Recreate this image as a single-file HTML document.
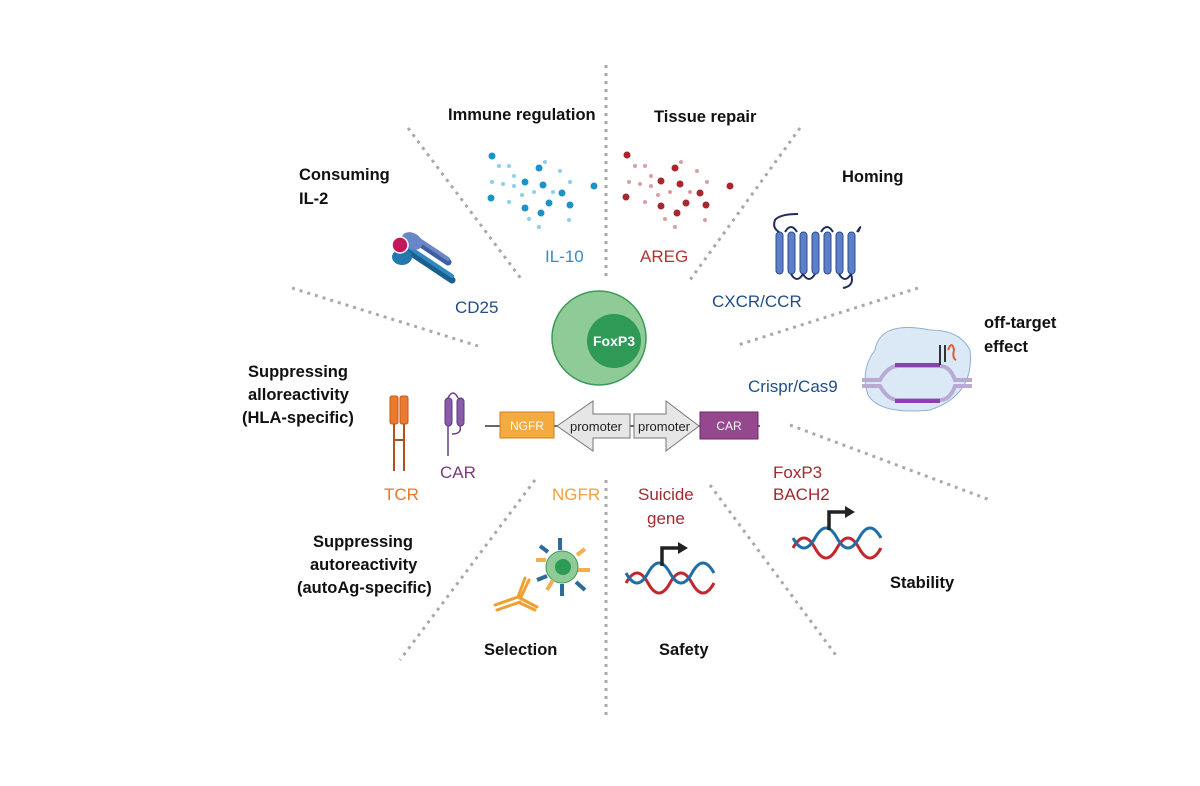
<!DOCTYPE html>
<html><head><meta charset="utf-8"><style>
body{margin:0;background:#fff}
svg{display:block}
text{font-family:"Liberation Sans",sans-serif}
.b{font-weight:bold;font-size:16.5px;fill:#111}
.l{font-size:17px}
</style></head><body>
<svg width="1200" height="786" viewBox="0 0 1200 786">
<g stroke="#a9a9a9" stroke-width="3" stroke-dasharray="3 5" fill="none">
<line x1="606" y1="65" x2="606" y2="278"/>
<line x1="606" y1="480" x2="606" y2="715"/>
<line x1="408" y1="128" x2="522" y2="280"/>
<line x1="800" y1="128" x2="690" y2="280"/>
<line x1="292" y1="288" x2="478" y2="346"/>
<line x1="918" y1="288" x2="735" y2="346"/>
<line x1="790" y1="425" x2="990" y2="500"/>
<line x1="535" y1="480" x2="400" y2="660"/>
<line x1="710" y1="485" x2="838" y2="658"/>
</g>
<text class="b" x="448" y="120">Immune regulation</text>
<text class="b" x="654" y="122">Tissue repair</text>
<text class="b" x="299" y="180">Consuming</text>
<text class="b" x="299" y="204">IL-2</text>
<text class="b" x="842" y="182">Homing</text>
<text class="b" x="984" y="328">off-target</text>
<text class="b" x="984" y="352">effect</text>
<text class="b" x="248" y="377">Suppressing</text>
<text class="b" x="248" y="400">alloreactivity</text>
<text class="b" x="242" y="423">(HLA-specific)</text>
<text class="b" x="313" y="547">Suppressing</text>
<text class="b" x="310" y="570">autoreactivity</text>
<text class="b" x="297" y="593">(autoAg-specific)</text>
<text class="b" x="484" y="655">Selection</text>
<text class="b" x="659" y="655">Safety</text>
<text class="b" x="890" y="588">Stability</text>
<text class="l" x="545" y="262" fill="#2f8fc9">IL-10</text>
<text class="l" x="640" y="262" fill="#b03236">AREG</text>
<text class="l" x="455" y="313" fill="#1f4e85">CD25</text>
<text class="l" x="712" y="307" fill="#1f4e85">CXCR/CCR</text>
<text class="l" x="748" y="392" fill="#1f4e85">Crispr/Cas9</text>
<text class="l" x="384" y="500" fill="#e8782a">TCR</text>
<text class="l" x="440" y="478" fill="#7a3a7a">CAR</text>
<text class="l" x="552" y="500" fill="#f0a040">NGFR</text>
<text class="l" x="638" y="500" fill="#a02a30">Suicide</text>
<text class="l" x="647" y="524" fill="#a02a30">gene</text>
<text class="l" x="773" y="478" fill="#a02a30">FoxP3</text>
<text class="l" x="773" y="500" fill="#a02a30">BACH2</text>
<g fill="#1c93c8">
<circle cx="492" cy="156" r="3.5"/><circle cx="539" cy="168" r="3.5"/><circle cx="525" cy="182" r="3.5"/><circle cx="543" cy="185" r="3.5"/><circle cx="491" cy="198" r="3.5"/><circle cx="562" cy="193" r="3.5"/><circle cx="525" cy="208" r="3.5"/><circle cx="549" cy="203" r="3.5"/><circle cx="570" cy="205" r="3.5"/><circle cx="541" cy="213" r="3.5"/><circle cx="594" cy="186" r="3.5"/>
</g>
<g fill="#8ccfe8">
<circle cx="499" cy="166" r="2"/><circle cx="509" cy="166" r="2"/><circle cx="514" cy="176" r="2"/><circle cx="492" cy="182" r="2"/><circle cx="503" cy="184" r="2"/><circle cx="514" cy="186" r="2"/><circle cx="545" cy="162" r="2"/><circle cx="560" cy="171" r="2"/><circle cx="570" cy="182" r="2"/><circle cx="534" cy="192" r="2"/><circle cx="553" cy="192" r="2"/><circle cx="522" cy="195" r="2"/><circle cx="509" cy="202" r="2"/><circle cx="529" cy="219" r="2"/><circle cx="539" cy="227" r="2"/><circle cx="569" cy="220" r="2"/>
</g>
<g fill="#a8262e">
<circle cx="627" cy="155" r="3.5"/><circle cx="675" cy="168" r="3.5"/><circle cx="661" cy="181" r="3.5"/><circle cx="680" cy="184" r="3.5"/><circle cx="626" cy="197" r="3.5"/><circle cx="700" cy="193" r="3.5"/><circle cx="661" cy="206" r="3.5"/><circle cx="686" cy="203" r="3.5"/><circle cx="706" cy="205" r="3.5"/><circle cx="677" cy="213" r="3.5"/><circle cx="730" cy="186" r="3.5"/>
</g>
<g fill="#d9a0a4">
<circle cx="635" cy="166" r="2"/><circle cx="645" cy="166" r="2"/><circle cx="651" cy="176" r="2"/><circle cx="629" cy="182" r="2"/><circle cx="640" cy="184" r="2"/><circle cx="651" cy="186" r="2"/><circle cx="681" cy="162" r="2"/><circle cx="697" cy="171" r="2"/><circle cx="707" cy="182" r="2"/><circle cx="670" cy="192" r="2"/><circle cx="690" cy="192" r="2"/><circle cx="658" cy="195" r="2"/><circle cx="645" cy="202" r="2"/><circle cx="665" cy="219" r="2"/><circle cx="675" cy="227" r="2"/><circle cx="705" cy="220" r="2"/>
</g>
<g stroke-linecap="round">
<line x1="410" y1="252" x2="452" y2="280" stroke="#1c5f8f" stroke-width="7"/>
<line x1="410" y1="248" x2="452" y2="276" stroke="#2e88bd" stroke-width="4"/>
<line x1="415" y1="240" x2="448" y2="262" stroke="#3c5f9f" stroke-width="7"/>
<line x1="415" y1="237" x2="448" y2="259" stroke="#6a86c7" stroke-width="4"/>
</g>
<ellipse cx="412" cy="241" rx="11" ry="8" fill="#6a86c7" transform="rotate(30 412 241)"/>
<ellipse cx="402" cy="257" rx="10" ry="8" fill="#2478ad"/>
<circle cx="400" cy="245" r="8" fill="#c2185b" stroke="#fff" stroke-width="1.5"/>
<g fill="#5b7fc9" stroke="#2c4b8c" stroke-width="1">
<rect x="776" y="232" width="7" height="42" rx="3.5"/><rect x="788" y="232" width="7" height="42" rx="3.5"/><rect x="800" y="232" width="7" height="42" rx="3.5"/><rect x="812" y="232" width="7" height="42" rx="3.5"/><rect x="824" y="232" width="7" height="42" rx="3.5"/><rect x="836" y="232" width="7" height="42" rx="3.5"/><rect x="848" y="232" width="7" height="42" rx="3.5"/>
</g>
<path d="M798 214 Q780 214 775 220 Q772 228 779 232 M785 232 Q791 222 797 232 M803 274 Q809 284 815 274 M821 232 Q827 222 833 232 M839 274 Q845 284 851 274 M857 232 Q863 222 858 232 M851 274 Q855 286 843 288 M791 274 Q797 284 803 274" stroke="#1f2d5a" stroke-width="2" fill="none"/>
<path d="M875 350 Q880 320 930 330 Q960 330 970 350 Q975 395 930 410 Q880 415 868 395 Q860 370 875 350Z" fill="#dbe9f7" stroke="#8fb0d0"/>
<path d="M862 380 H880 Q888 366 898 366 H940 Q950 366 955 380 H972 M862 386 H880 Q888 400 898 400 H940 Q950 400 955 386 H972" stroke="#b9a9d3" stroke-width="4" fill="none"/>
<rect x="895" y="363" width="45" height="4" fill="#8a40b0"/>
<rect x="895" y="399" width="45" height="4" fill="#8a40b0"/>
<path d="M940 365 V345 M945 345 V362" stroke="#333" stroke-width="2"/>
<path d="M948 350 q4 -10 6 0 q-2 8 2 10" stroke="#e05a30" stroke-width="2" fill="none"/>
<circle cx="599" cy="338" r="47" fill="#8ecb97" stroke="#3a9a5a" stroke-width="1.5"/>
<circle cx="614" cy="341" r="27" fill="#2e9a55"/>
<text x="614" y="346" text-anchor="middle" fill="#fff" font-weight="bold" font-size="14">FoxP3</text>
<g fill="#ea7a30" stroke="#c25a18" stroke-width="1">
<rect x="390" y="396" width="8" height="28" rx="2"/><rect x="400" y="396" width="8" height="28" rx="2"/>
</g>
<path d="M394 424 V471 M404 424 V471 M394 440 H404" stroke="#b0521c" stroke-width="2"/>
<rect x="445" y="398" width="7" height="28" rx="3.5" fill="#8a5ba8" stroke="#5a3a7a"/>
<rect x="457" y="398" width="7" height="28" rx="3.5" fill="#8a5ba8" stroke="#5a3a7a"/>
<path d="M448 398 Q453 388 458 398 M448 426 V456 M460 426 Q462 434 452 434" stroke="#6a3f8a" stroke-width="1.5" fill="none"/>
<line x1="485" y1="426" x2="760" y2="426" stroke="#333" stroke-width="1.5"/>
<rect x="500" y="412" width="54" height="26" fill="#f4aa3c" stroke="#d08020"/>
<text x="527" y="430" text-anchor="middle" fill="#fff" font-size="12">NGFR</text>
<path d="M557 426 L593 401 V414 H630 V438 H593 V451 Z" fill="#e6e6e6" stroke="#777"/>
<text x="596" y="431" text-anchor="middle" font-size="13" fill="#222">promoter</text>
<path d="M634 414 H666 V401 L699 426 L666 451 V438 H634 Z" fill="#e6e6e6" stroke="#777"/>
<text x="664" y="431" text-anchor="middle" font-size="13" fill="#222">promoter</text>
<rect x="700" y="412" width="58" height="27" fill="#96488f" stroke="#6a2a68"/>
<text x="729" y="430" text-anchor="middle" fill="#fff" font-size="12">CAR</text>
<circle cx="562" cy="567" r="16" fill="#8ecb97" stroke="#3a9a5a"/>
<circle cx="563" cy="567" r="8" fill="#2e9a55"/>
<g stroke="#f0b050" stroke-width="4"><line x1="546" y1="560" x2="536" y2="560"/><line x1="577" y1="555" x2="585" y2="549"/><line x1="578" y1="570" x2="590" y2="570"/><line x1="553" y1="580" x2="547" y2="590"/></g>
<g stroke="#2e6a9a" stroke-width="4"><line x1="560" y1="550" x2="560" y2="538"/><line x1="548" y1="552" x2="540" y2="546"/><line x1="547" y1="576" x2="537" y2="580"/><line x1="562" y1="584" x2="562" y2="596"/><line x1="576" y1="582" x2="585" y2="590"/></g>
<g stroke="#f0a030" stroke-width="3" stroke-linecap="round" fill="none"><path d="M495 605 L518 597 L525 578 M518 597 L537 607"/><path d="M497 610 L520 602 M520 603 L535 610 M521 597 L529 580"/></g>
<path d="M626 583 q11 -20 22 0 t22 0 t22 0 t22 0" stroke="#c1272d" stroke-width="3" fill="none"/>
<path d="M626 573 q11 20 22 0 t22 0 t22 0 t22 0" stroke="#1f6ea8" stroke-width="3" fill="none"/>
<path d="M662 566 V548 H678" stroke="#222" stroke-width="3.5" fill="none"/><path d="M678 542 L688 548 L678 554Z" fill="#222"/>
<path d="M793 548 q11 -20 22 0 t22 0 t22 0 t22 0" stroke="#c1272d" stroke-width="3" fill="none"/>
<path d="M793 538 q11 20 22 0 t22 0 t22 0 t22 0" stroke="#1f6ea8" stroke-width="3" fill="none"/>
<path d="M829 530 V512 H845" stroke="#222" stroke-width="3.5" fill="none"/><path d="M845 506 L855 512 L845 518Z" fill="#222"/>
</svg>
</body></html>
